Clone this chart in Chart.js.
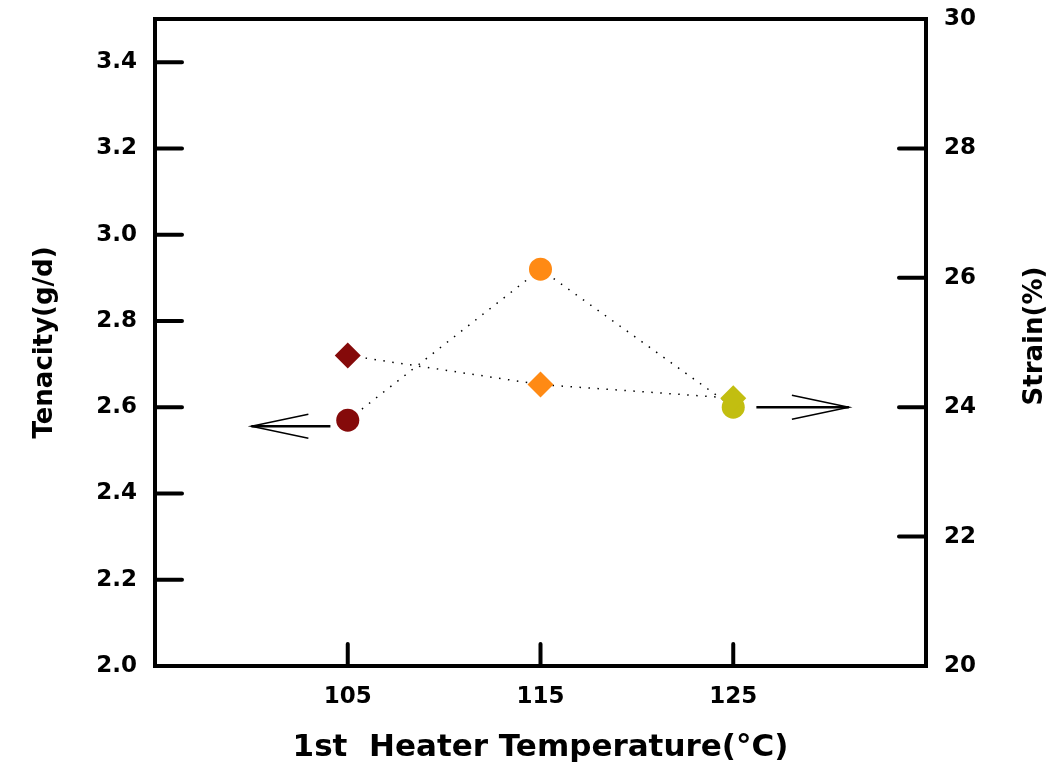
<!DOCTYPE html>
<html>
<head>
<meta charset="utf-8">
<script src="https://cdn.jsdelivr.net/npm/chart.js@4/dist/chart.umd.min.js"></script>
<style>
html,body{margin:0;padding:0;background:#fff;}
#wrap{width:1061px;height:773px;}
</style>
</head>
<body>
<div id="wrap"><canvas id="c" width="1061" height="773"></canvas></div>
<script>
// ---- data ----
const temperatures = [105, 115, 125];
const tenacity = [2.57, 2.92, 2.60];
const strain = [24.8, 24.35, 24.14];
const pointColors = ['#850A0A', '#FF8A14', '#C2BE10'];
const xTicks = [105, 115, 125];
const yLeftTicks = [2.0, 2.2, 2.4, 2.6, 2.8, 3.0, 3.2, 3.4];
const yRightTicks = [20, 22, 24, 26, 28, 30];
// annotation arrows [x, y] in data units: shaft start -> tip
const leftArrow = { from: [104.1, 2.556], to: [100, 2.556] };   // points to tenacity axis
const rightArrow = { from: [126.2, 24.0], to: [131.0, 24.0] };  // points to strain axis

const FONT = "'DejaVu Sans', Arial, sans-serif";

const framePlugin = {
  id: 'frame',
  afterDatasetsDraw(chart) {
    const ctx = chart.ctx;
    const a = chart.chartArea;
    const xs = chart.scales.x, yl = chart.scales.y, yr = chart.scales.y2;
    ctx.save();
    ctx.strokeStyle = '#000';
    ctx.lineWidth = 4;
    ctx.lineCap = 'round';
    ctx.lineJoin = 'miter';
    ctx.strokeRect(a.left, a.top, a.right - a.left, a.bottom - a.top);
    const tl = 27;
    ctx.beginPath();
    xTicks.forEach(v => { const px = xs.getPixelForValue(v); ctx.moveTo(px, a.bottom); ctx.lineTo(px, a.bottom - 22); });
    yLeftTicks.forEach(v => { const py = yl.getPixelForValue(v); ctx.moveTo(a.left, py); ctx.lineTo(a.left + tl, py); });
    yRightTicks.forEach(v => { if (v === 20 || v === 30) return; const py = yr.getPixelForValue(v); ctx.moveTo(a.right, py); ctx.lineTo(a.right - tl, py); });
    ctx.stroke();

    // arrows
    function arrow(ar, yScale) {
      const x1 = xs.getPixelForValue(ar.from[0]), y1 = yScale.getPixelForValue(ar.from[1]);
      const x2 = xs.getPixelForValue(ar.to[0]), y2 = yScale.getPixelForValue(ar.to[1]);
      const dir = Math.sign(x2 - x1);
      ctx.lineCap = 'butt';
      ctx.lineWidth = 2.5;
      ctx.beginPath(); ctx.moveTo(x1, y1); ctx.lineTo(x2, y2); ctx.stroke();
      ctx.lineWidth = 1.5;
      ctx.beginPath();
      ctx.moveTo(x2 - dir * 57, y2 - 12); ctx.lineTo(x2, y2); ctx.lineTo(x2 - dir * 57, y2 + 12);
      ctx.stroke();
    }
    arrow(leftArrow, yl);
    arrow(rightArrow, yr);

    // right axis title (reads bottom to top)
    ctx.fillStyle = '#000';
    ctx.font = 'bold 26px ' + FONT;
    ctx.textAlign = 'center';
    ctx.textBaseline = 'middle';
    ctx.translate(1035, yr.getPixelForValue(25.1));
    ctx.rotate(-Math.PI / 2);
    ctx.fillText('Strain(%)', 0, 0);
    ctx.restore();
  }
};

const noVPad = s => { s.paddingTop = 0; s.paddingBottom = 0; };

const ctx = document.getElementById('c').getContext('2d');
new Chart(ctx, {
  type: 'scatter',
  data: {
    datasets: [
      {
        label: 'Tenacity',
        data: temperatures.map((t, i) => ({ x: t, y: tenacity[i] })),
        yAxisID: 'y',
        showLine: true,
        borderColor: '#000',
        borderWidth: 1.5,
        borderDash: [1.5, 7.5],
        pointStyle: 'circle',
        pointRadius: 11.5,
        pointHoverRadius: 11.5,
        pointBorderWidth: 0,
        pointBackgroundColor: pointColors,
        pointBorderColor: pointColors,
        order: 2
      },
      {
        label: 'Strain',
        data: temperatures.map((t, i) => ({ x: t, y: strain[i] })),
        yAxisID: 'y2',
        showLine: true,
        borderColor: '#000',
        borderWidth: 1.5,
        borderDash: [1.5, 7.5],
        pointStyle: 'rectRot',
        pointRadius: 13,
        pointHoverRadius: 13,
        pointBorderWidth: 0,
        pointBackgroundColor: pointColors,
        pointBorderColor: pointColors,
        order: 1
      }
    ]
  },
  options: {
    responsive: false,
    animation: false,
    layout: { padding: { top: 19, left: 0, right: 0, bottom: 0 } },
    plugins: { legend: { display: false }, tooltip: { enabled: false } },
    scales: {
      x: {
        type: 'linear', min: 95, max: 135,
        afterBuildTicks: s => { s.ticks = xTicks.map(v => ({ value: v })); },
        afterFit: s => { s.height = 107; s.paddingLeft = 0; s.paddingRight = 0; },
        grid: { display: false, drawTicks: false },
        border: { display: false },
        ticks: { color: '#000', font: { family: FONT, size: 23, weight: 'bold' }, padding: 17, maxRotation: 0 },
        title: { display: true, text: '1st  Heater Temperature(°C)', color: '#000', font: { family: FONT, size: 31, weight: 'bold' }, padding: { top: 0, bottom: 6 } }
      },
      y: {
        type: 'linear', position: 'left', min: 2.0, max: 3.5,
        afterBuildTicks: s => { s.ticks = yLeftTicks.map(v => ({ value: v })); },
        afterFit: s => { s.width = 155; noVPad(s); },
        grid: { display: false, drawTicks: false },
        border: { display: false },
        ticks: { color: '#000', font: { family: FONT, size: 23, weight: 'bold' }, padding: 18, callback: v => v.toFixed(1) },
        title: { display: true, text: 'Tenacity(g/d)', color: '#000', font: { family: FONT, size: 26, weight: 'bold' }, padding: { top: 30, bottom: 0 } }
      },
      y2: {
        type: 'linear', position: 'right', min: 20, max: 30,
        afterBuildTicks: s => { s.ticks = yRightTicks.map(v => ({ value: v })); },
        afterFit: s => { s.width = 135; noVPad(s); },
        grid: { display: false, drawTicks: false },
        border: { display: false },
        ticks: { color: '#000', font: { family: FONT, size: 23, weight: 'bold' }, padding: 18 }
      }
    }
  },
  plugins: [framePlugin]
});
</script>
</body>
</html>
